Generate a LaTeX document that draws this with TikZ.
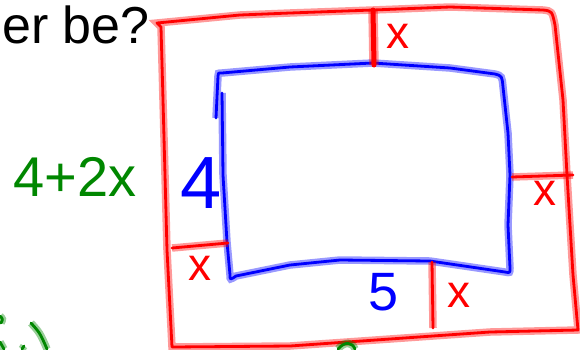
\documentclass[tikz,border=0pt]{standalone}
\usepackage{fontspec}
\setmainfont{Liberation Sans}
\definecolor{penred}{RGB}{255,0,0}
\definecolor{penblue}{RGB}{0,0,255}
\definecolor{pengreen}{RGB}{0,135,0}
\tikzset{
  pen/.style={draw=#1, line width=2.8pt, line cap=round, line join=round,
    preaction={draw=#1, draw opacity=0.4, line width=7.5pt}},
  thickpen/.style={draw=#1, line width=5pt, line cap=round, line join=round,
    preaction={draw=#1, draw opacity=0.4, line width=9.5pt}},
  hand/.style={text=#1, inner sep=0pt, font=\fontsize{46}{46}\selectfont}
}
\begin{document}
\begin{tikzpicture}[x=1pt,y=-1pt]
\useasboundingbox[fill=white] (0,0) rectangle (580,349);
% question text
\node[anchor=base east, inner sep=0pt, font=\fontsize{52}{52}\selectfont] (q) at (150,43) {er be?};
% red outer rectangle
\draw[pen=penred] (157,23) -- (240,15) -- (290,13) -- (373,10) -- (450,7) -- (543,10)
  .. controls (552,11) .. (555,25) -- (563,100) -- (567,175) -- (573,275) -- (578,330)
  -- (490,332) -- (290,346) -- (172,347) -- (167,250) -- (165,175) -- (163,100) -- (161,27) -- cycle;
% blue inner rectangle
\draw[pen=penblue] (216,118) -- (218,76) .. controls (218,73) .. (222,73) -- (290,67) -- (373,63) -- (450,68) -- (495,74)
  .. controls (502,76) .. (503,87) -- (508,133) -- (510,175) -- (508,225) -- (510,268)
  .. controls (510,273) .. (505,272) -- (430,261) -- (340,260) -- (290,265) -- (236,276)
  .. controls (230,280) .. (230,275) -- (227,242) -- (223,175) -- (222,93);
% red width marks
\draw[thickpen=penred] (373,10) -- (374,65);
\draw[pen=penred] (512,177) -- (573,175);
\draw[pen=penred] (172,248) -- (228,243);
\draw[pen=penred] (432,262) -- (433,328);
% red labels
\node[hand=penred] (xt) at (398,36) {x};
\node[hand=penred] (xr) at (545,193) {x};
\node[hand=penred] (xl) at (200,268) {x};
\node[hand=penred] (xb) at (459,295) {x};
% blue labels
\node[hand=penblue, font=\fontsize{74}{74}\selectfont] (four) at (201,183) {4};
\node[hand=penblue, font=\fontsize{54}{54}\selectfont] (five) at (384,292) {5};
% green label
\node[hand=pengreen, font=\fontsize{56}{56}\selectfont] (sum) at (75,177) {4+2x};
% green fragments cut off at the edges
\draw[pen=pengreen] (0,316) .. controls (3,319) .. (1,323);
\draw[pen=pengreen] (0,342) -- (4,349);
\draw[pen=pengreen] (22,349) -- (24,346);
\draw[pen=pengreen] (31,323) .. controls (40,333) .. (47,349);
\draw[pen=pengreen] (338,349) .. controls (345,341) and (352,342) .. (355,349);
\end{tikzpicture}
\end{document}
